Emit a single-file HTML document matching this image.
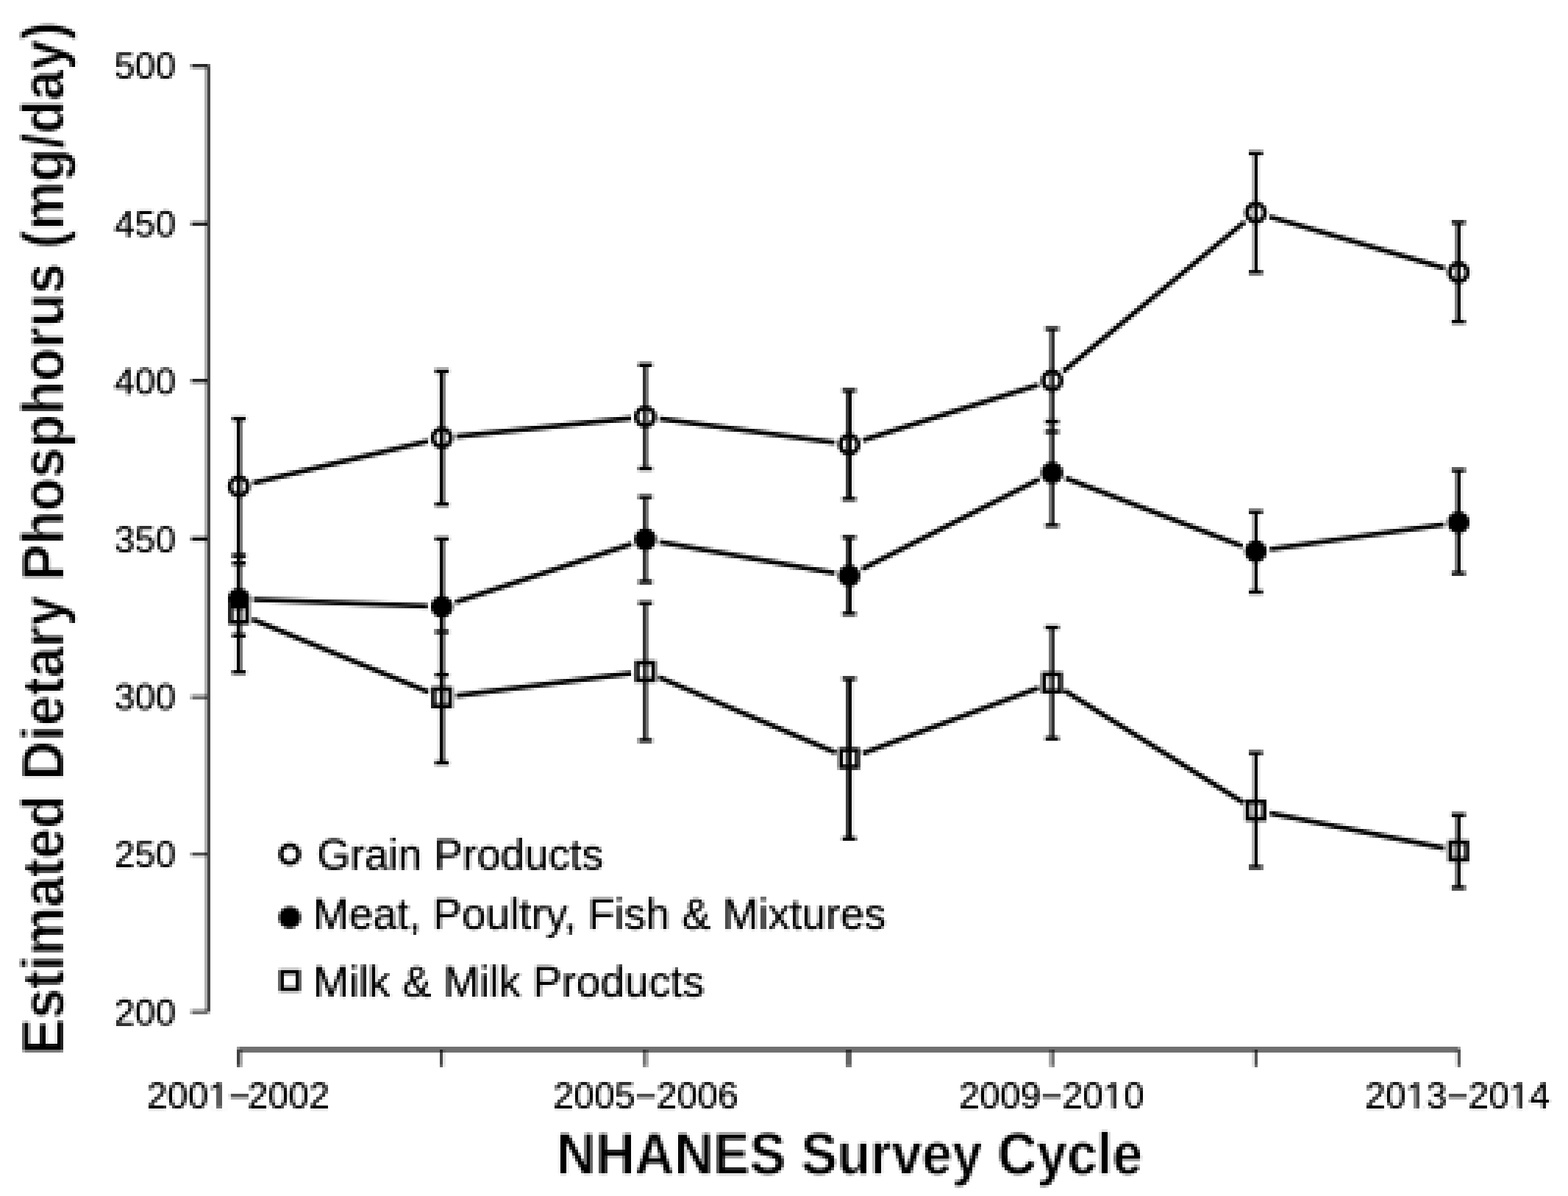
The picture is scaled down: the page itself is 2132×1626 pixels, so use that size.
<!DOCTYPE html>
<html lang="en"><head><meta charset="utf-8"><title>Estimated Dietary Phosphorus by NHANES Survey Cycle</title>
<style>
html,body{margin:0;padding:0;background:#fff;}
body{width:2132px;height:1626px;overflow:hidden;}
svg{display:block;}
text{font-family:"Liberation Sans",Arial,Helvetica,sans-serif;fill:#000;}
.tick{font-size:50px;stroke:#000;stroke-width:0.5px;}
.leg{font-size:60px;stroke:#000;stroke-width:0.5px;}
.title{font-size:79.5px;font-weight:bold;stroke:#fff;stroke-width:0.9px;}
</style></head><body>
<svg width="2132" height="1626" viewBox="0 0 2132 1626">
<defs>
<filter id="pix" filterUnits="userSpaceOnUse" x="0" y="0" width="2132" height="1626" color-interpolation-filters="sRGB">
<feConvolveMatrix in="SourceGraphic" order="4 1" kernelMatrix="1 1 1 1" divisor="4" targetX="0" targetY="0" edgeMode="duplicate" preserveAlpha="false" result="avgx"/>
<feConvolveMatrix in="avgx" order="1 4" kernelMatrix="1 1 1 1" divisor="4" targetX="0" targetY="0" edgeMode="duplicate" preserveAlpha="false" result="avg"/>
<feFlood flood-color="#000" flood-opacity="1" x="2" y="3" width="1" height="1" result="dot"/>
<feOffset in="dot" dx="0" dy="0" x="2" y="3" width="4" height="4" result="cell"/>
<feTile in="cell" x="0" y="0" width="2132" height="1626" result="grid"/>
<feComposite in="avg" in2="grid" operator="in" result="samp"/>
<feConvolveMatrix in="samp" order="4 1" kernelMatrix="1 1 1 1" divisor="1" targetX="3" targetY="0" edgeMode="none" preserveAlpha="false" result="bigx"/>
<feConvolveMatrix in="bigx" order="1 4" kernelMatrix="1 1 1 1" divisor="1" targetX="0" targetY="3" edgeMode="none" preserveAlpha="false" result="big"/>
<feGaussianBlur in="big" stdDeviation="0.75"/>
</filter>
</defs>
<rect x="0" y="0" width="2132" height="1626" fill="#ffffff"/>
<g filter="url(#pix)">
<rect x="-10" y="-10" width="2152" height="1646" fill="#ffffff"/>
<g id="axes" fill="#000">
<rect x="280.76" y="87.64" width="4.16" height="1288.76"/>
<rect x="260" y="87.64" width="22.5" height="4.52"/>
<rect x="260" y="301.8" width="22.5" height="4.6"/>
<rect x="260" y="515.6" width="22.5" height="4.6"/>
<rect x="260" y="729.92" width="22.5" height="5.48"/>
<rect x="260" y="945.8" width="22.5" height="3.44"/>
<rect x="260" y="1160.32" width="22.5" height="3.28"/>
<rect x="260" y="1373.8" width="22.5" height="3.44"/>
<rect x="323" y="1424.76" width="1661.68" height="4.48"/>
<rect x="323" y="1427" width="4.4" height="23.4"/>
<rect x="599.12" y="1427" width="3.28" height="23.4"/>
<rect x="875.88" y="1427" width="3.44" height="23.4"/>
<rect x="1151.6" y="1427" width="4.8" height="23.4"/>
<rect x="1428.68" y="1427" width="3.44" height="23.4"/>
<rect x="1705.52" y="1427" width="3.16" height="23.4"/>
<rect x="1981.52" y="1427" width="3.16" height="23.4"/>
</g>
<g id="grain">
<g stroke="#000" fill="none">
<path d="M324.9 569.27 V755.4" stroke-width="6.36"/>
<path d="M315.4 569.27 H334.4 M315.4 755.4 H334.4" stroke-width="5.6"/>
<path d="M600.86 504.65 V685.67" stroke-width="6.28"/>
<path d="M591.36 504.65 H610.36 M591.36 685.67 H610.36" stroke-width="5.6"/>
<path d="M877.46 496.14 V636.99" stroke-width="5.32"/>
<path d="M867.96 496.14 H886.96 M867.96 636.99 H886.96" stroke-width="5.6"/>
<path d="M1154.64 530.7 V678.46" stroke-width="7.28"/>
<path d="M1145.14 530.7 H1164.14 M1145.14 678.46 H1164.14" stroke-width="5.6"/>
<path d="M1430.54 446.95 V587" stroke-width="5.32"/>
<path d="M1421.04 446.95 H1440.04 M1421.04 587 H1440.04" stroke-width="5.6"/>
<path d="M1707.54 208.42 V370.31" stroke-width="5.4"/>
<path d="M1698.04 208.42 H1717.04 M1698.04 370.31 H1717.04" stroke-width="5.6"/>
<path d="M1983.12 302.49 V437.53" stroke-width="6.24"/>
<path d="M1973.62 302.49 H1992.62 M1973.62 437.53 H1992.62" stroke-width="5.6"/>
</g>
<g stroke="#000" stroke-width="6.7" fill="none">
<path d="M343.9 656.7 L581.9 599.8"/>
<path d="M620.3 593.3 L858.1 568.7"/>
<path d="M896.8 569.3 L1135.3 601.7"/>
<path d="M1173.2 598.5 L1411.9 523.3"/>
<path d="M1445.6 505.1 L1692.5 301.5"/>
<path d="M1726.2 294.6 L1964.4 364.8"/>
</g>
<circle cx="324.9" cy="661.23" r="12.2" fill="none" stroke="#000" stroke-width="6.3"/>
<circle cx="600.86" cy="595.31" r="12.2" fill="none" stroke="#000" stroke-width="6.3"/>
<circle cx="877.46" cy="566.66" r="12.2" fill="none" stroke="#000" stroke-width="6.3"/>
<circle cx="1154.64" cy="604.33" r="12.2" fill="none" stroke="#000" stroke-width="6.3"/>
<circle cx="1430.54" cy="517.47" r="12.2" fill="none" stroke="#000" stroke-width="6.3"/>
<circle cx="1707.54" cy="289.07" r="12.2" fill="none" stroke="#000" stroke-width="6.3"/>
<circle cx="1983.12" cy="370.31" r="12.2" fill="none" stroke="#000" stroke-width="6.3"/>
</g>
<g id="milk">
<g stroke="#000" fill="none">
<path d="M324.9 755.4 V913.98" stroke-width="6.36"/>
<path d="M315.4 755.4 H334.4 M315.4 913.98 H334.4" stroke-width="5.6"/>
<path d="M600.86 858.98 V1037.1" stroke-width="6.28"/>
<path d="M591.36 858.98 H610.36 M591.36 1037.1 H610.36" stroke-width="5.6"/>
<path d="M877.46 819.71 V1006.74" stroke-width="5.32"/>
<path d="M867.96 819.71 H886.96 M867.96 1006.74 H886.96" stroke-width="5.6"/>
<path d="M1154.64 922.79 V1140.28" stroke-width="7.28"/>
<path d="M1145.14 922.79 H1164.14 M1145.14 1140.28 H1164.14" stroke-width="5.6"/>
<path d="M1430.54 852.97 V1004.04" stroke-width="5.32"/>
<path d="M1421.04 852.97 H1440.04 M1421.04 1004.04 H1440.04" stroke-width="5.6"/>
<path d="M1707.54 1023.47 V1178.95" stroke-width="5.4"/>
<path d="M1698.04 1023.47 H1717.04 M1698.04 1178.95 H1717.04" stroke-width="5.6"/>
<path d="M1983.12 1107.92 V1206.9" stroke-width="6.24"/>
<path d="M1973.62 1107.92 H1992.62 M1973.62 1206.9 H1992.62" stroke-width="5.6"/>
</g>
<g stroke="#000" stroke-width="6.7" fill="none">
<path d="M342.9 841.8 L582.8 940.9"/>
<path d="M620.2 945.9 L858.1 915.4"/>
<path d="M895.4 920.5 L1136.7 1023.4"/>
<path d="M1172.9 1024.3 L1412.3 935.1"/>
<path d="M1447.1 938.6 L1691.0 1091.3"/>
<path d="M1726.7 1105.5 L1964.0 1153.1"/>
</g>
<rect x="313.65" y="822.59" width="22.5" height="23.5" fill="none" stroke="#000" stroke-width="6.2"/>
<rect x="589.61" y="936.59" width="22.5" height="23.5" fill="none" stroke="#000" stroke-width="6.2"/>
<rect x="866.21" y="901.13" width="22.5" height="23.5" fill="none" stroke="#000" stroke-width="6.2"/>
<rect x="1143.39" y="1019.34" width="22.5" height="23.5" fill="none" stroke="#000" stroke-width="6.2"/>
<rect x="1419.29" y="916.55" width="22.5" height="23.5" fill="none" stroke="#000" stroke-width="6.2"/>
<rect x="1696.29" y="1089.86" width="22.5" height="23.5" fill="none" stroke="#000" stroke-width="6.2"/>
<rect x="1971.87" y="1145.16" width="22.5" height="23.5" fill="none" stroke="#000" stroke-width="6.2"/>
</g>
<g id="meat">
<g stroke="#000" fill="none">
<path d="M324.9 766.02 V863.99" stroke-width="6.36"/>
<path d="M315.4 766.02 H334.4 M315.4 863.99 H334.4" stroke-width="5.6"/>
<path d="M600.86 732.56 V917.48" stroke-width="6.28"/>
<path d="M591.36 732.56 H610.36 M591.36 917.48 H610.36" stroke-width="5.6"/>
<path d="M877.46 675.45 V791.16" stroke-width="5.32"/>
<path d="M867.96 675.45 H886.96 M867.96 791.16 H886.96" stroke-width="5.6"/>
<path d="M1154.64 730.55 V834.44" stroke-width="7.28"/>
<path d="M1145.14 730.55 H1164.14 M1145.14 834.44 H1164.14" stroke-width="5.6"/>
<path d="M1430.54 573.27 V714.52" stroke-width="5.32"/>
<path d="M1421.04 573.27 H1440.04 M1421.04 714.52 H1440.04" stroke-width="5.6"/>
<path d="M1707.54 695.79 V804.88" stroke-width="5.4"/>
<path d="M1698.04 695.79 H1717.04 M1698.04 804.88 H1717.04" stroke-width="5.6"/>
<path d="M1983.12 639.19 V779.54" stroke-width="6.24"/>
<path d="M1973.62 639.19 H1992.62 M1973.62 779.54 H1992.62" stroke-width="5.6"/>
</g>
<g stroke="#000" stroke-width="6.7" fill="none">
<path d="M344.4 815.0 L581.4 824.2"/>
<path d="M619.4 818.8 L858.9 739.5"/>
<path d="M896.7 736.8 L1135.4 779.2"/>
<path d="M1172.0 773.8 L1413.1 651.6"/>
<path d="M1448.7 649.8 L1689.3 742.6"/>
<path d="M1726.8 746.8 L1963.8 713.0"/>
</g>
<circle cx="324.9" cy="814.2" r="15" fill="#000"/>
<circle cx="600.86" cy="824.92" r="15" fill="#000"/>
<circle cx="877.46" cy="733.36" r="15" fill="#000"/>
<circle cx="1154.64" cy="782.64" r="15" fill="#000"/>
<circle cx="1430.54" cy="642.8" r="15" fill="#000"/>
<circle cx="1707.54" cy="749.59" r="15" fill="#000"/>
<circle cx="1983.12" cy="710.22" r="15" fill="#000"/>
</g>
<g id="legend-markers">
<circle cx="394" cy="1161.32" r="12.2" fill="none" stroke="#000" stroke-width="6.3"/>
<circle cx="394" cy="1247.47" r="15" fill="#000"/>
<rect x="382.75" y="1321.37" width="22.5" height="23.5" fill="none" stroke="#000" stroke-width="6.2"/>
</g>
<g id="ylabels" text-anchor="end">
<text class="tick" x="239" y="107.45">500</text>
<text class="tick" x="239" y="321.83">450</text>
<text class="tick" x="239" y="536.21">400</text>
<text class="tick" x="239" y="750.59">350</text>
<text class="tick" x="239" y="964.97">300</text>
<text class="tick" x="239" y="1179.35">250</text>
<text class="tick" x="239" y="1393.73">200</text>
</g>
<g id="xlabels">
<text class="tick" x="199.77" y="1506.93">2001−<tspan dx="-3.5">2002</tspan></text>
<text class="tick" x="752.27" y="1506.93">2005−2006</text>
<text class="tick" x="1304.07" y="1506.93">2009−2010</text>
<text class="tick" x="1856.02" y="1506.93">2013−2014</text>
</g>
<g id="digit-trim" fill="#ffffff">
<rect x="286.62" y="1502.83" width="9.1" height="4.9"/>
<rect x="300.22" y="1502.83" width="8.73" height="4.9"/>
<rect x="1503.54" y="1502.83" width="9.1" height="4.9"/>
<rect x="1517.14" y="1502.83" width="8.72" height="4.9"/>
<rect x="1915.06" y="1502.83" width="9.1" height="4.9"/>
<rect x="1928.66" y="1502.83" width="8.72" height="4.9"/>
<rect x="2055.49" y="1502.83" width="9.1" height="4.9"/>
<rect x="2069.09" y="1502.83" width="8.72" height="4.9"/>
</g>
<text class="title" text-anchor="middle" x="1155" y="1596.49" textLength="797" lengthAdjust="spacingAndGlyphs">NHANES Survey Cycle</text>
<text class="title" text-anchor="middle" transform="translate(86.4 732.05) rotate(-90)" textLength="1405" lengthAdjust="spacingAndGlyphs">Estimated Dietary Phosphorus (mg/day)</text>
<g id="legend">
<text class="leg" x="431" y="1182.35" textLength="389.4" lengthAdjust="spacingAndGlyphs">Grain Products</text>
<text class="leg" x="425.5" y="1262.5" textLength="779" lengthAdjust="spacingAndGlyphs">Meat, Poultry, Fish &amp; Mixtures</text>
<text class="leg" x="425.5" y="1354.66" textLength="532.3" lengthAdjust="spacingAndGlyphs">Milk &amp; Milk Products</text>
</g>
</g>
</svg>
</body></html>
